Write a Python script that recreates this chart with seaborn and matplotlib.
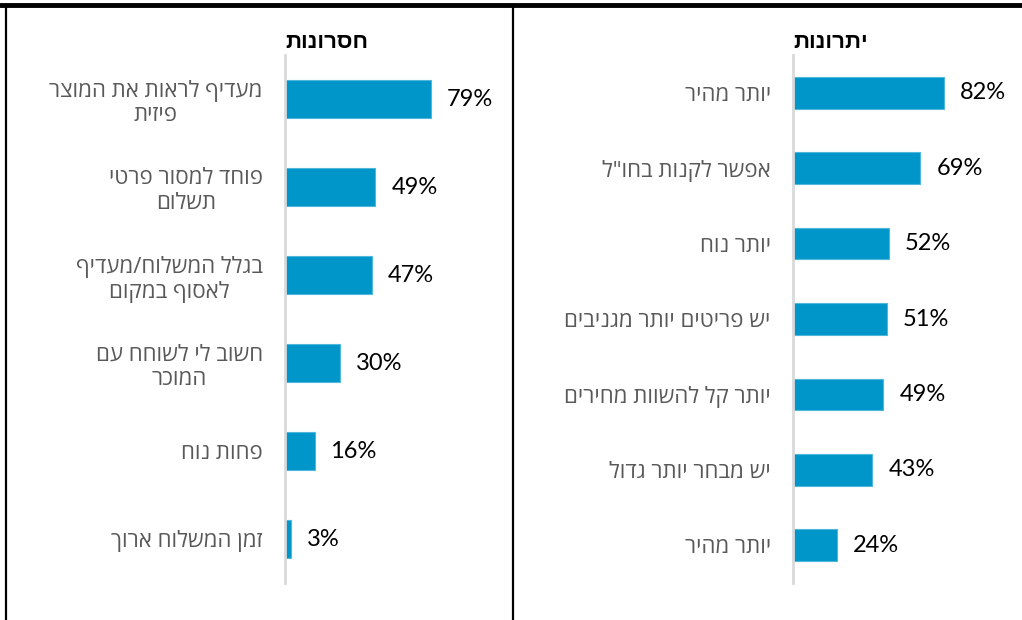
import matplotlib
matplotlib.use("Agg")
import matplotlib.pyplot as plt
import seaborn as sns
import pandas as pd

# ---- data ----
cons_title = "חסרונות"
cons_labels = ["מעדיף לראות את המוצר\nפיזית",
               "פוחד למסור פרטי\nתשלום",
               "בגלל המשלוח/מעדיף\nלאסוף במקום",
               "חשוב לי לשוחח עם\nהמוכר",
               "פחות נוח",
               "זמן המשלוח ארוך"]
cons_values = [79, 49, 47, 30, 16, 3]

pros_title = "יתרונות"
pros_labels = ["יותר מהיר",
               "אפשר לקנות בחו\"ל",
               "יותר נוח",
               "יש פריטים יותר מגניבים",
               "יותר קל להשוות מחירים",
               "יש מבחר יותר גדול",
               "יותר מהיר"]
pros_values = [82, 69, 52, 51, 49, 43, 24]

try:
    from bidi.algorithm import get_display
    def rtl(s):
        return "\n".join(get_display(line) for line in s.split("\n"))
except Exception:
    def rtl(s):
        return "\n".join(line[::-1] for line in s.split("\n"))

sns.set_theme(style="white")
HEB = ["Open Sans", "Liberation Sans", "DejaVu Sans"]
NUM = ["Lato", "DejaVu Sans"]
plt.rcParams["font.family"] = HEB

BAR = "#0096C9"
LABEL_C = "#595959"
W, H = 1022, 620
fig = plt.figure(figsize=(W / 100, H / 100), dpi=100)

PX = 1.845  # pixels per percent
ax_w_px = 200


def panel(x0_px, labels, values, title, bar_w):
    ax = fig.add_axes([x0_px / W, (H - 583) / H, ax_w_px / W, 528 / H])
    df = pd.DataFrame({"cat": [str(i) for i in range(len(values))], "val": values})
    sns.barplot(data=df, x="val", y="cat", ax=ax, color=BAR, width=bar_w,
                saturation=1, edgecolor="#4fb6dc", linewidth=0.8)
    ax.set_xlim(0, ax_w_px / PX)
    ax.set_xlabel("")
    ax.set_ylabel("")
    ax.set_xticks([])
    for s in ["top", "right", "bottom"]:
        ax.spines[s].set_visible(False)
    ax.spines["left"].set_color("#d9d9d9")
    ax.spines["left"].set_linewidth(2)
    ax.set_yticks(range(len(labels)))
    ax.set_yticklabels([rtl(l) for l in labels], fontsize=16, color=LABEL_C,
                       family=HEB, linespacing=1.2)
    for t in ax.get_yticklabels():
        t.set_multialignment("center")
    ax.tick_params(axis="y", length=0, pad=16)
    for i, v in enumerate(values):
        ax.annotate(f"{v}%", xy=(v, i), xytext=(11.5, 0), textcoords="offset points",
                    ha="left", va="center", fontsize=17, color="black", family=NUM)
    ax.text(0.0, 1.0 + 13 / 528, rtl(title), transform=ax.transAxes, ha="left",
            va="center", fontsize=16, fontweight="bold", color="black", family=HEB)
    return ax


panel(285, cons_labels, cons_values, cons_title, 0.43)
panel(793, pros_labels, pros_values, pros_title, 0.42)

# frame lines
fig.add_artist(plt.Line2D([0, 1], [1 - 4.5 / H, 1 - 4.5 / H], transform=fig.transFigure,
                          color="black", linewidth=3.5))
fig.add_artist(plt.Line2D([6 / W, 6 / W], [0, 1 - 4.5 / H], transform=fig.transFigure,
                          color="black", linewidth=1.6))
fig.add_artist(plt.Line2D([513 / W, 513 / W], [0, 1 - 4.5 / H], transform=fig.transFigure,
                          color="black", linewidth=1.6))

fig.savefig("out.png", dpi=100, facecolor="white")
